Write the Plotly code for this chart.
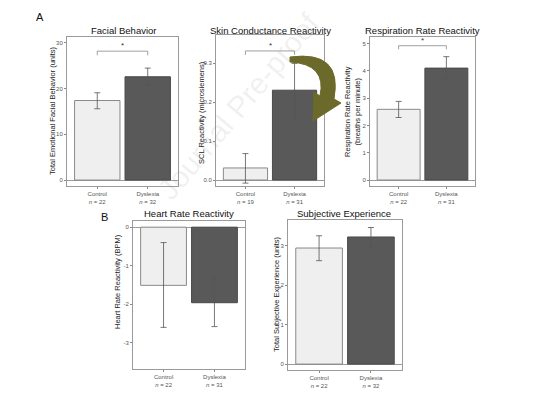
import plotly.graph_objects as go

# page is rendered with the browser's default 8px body margin
OFF = 8
W, H = 537 - OFF, 397 - OFF
FONT = "Liberation Sans, Arial, sans-serif"

groups = ["Control", "Dyslexia"]

# Panel data
facial_mean = [17.4, 22.6]
facial_hi = [19.1, 24.5]
facial_lo = [15.6, 20.8]
facial_n = [22, 32]

scl_mean = [0.031, 0.231]
scl_hi = [0.068, 0.300]
scl_lo = [-0.008, 0.158]
scl_n = [19, 31]

resp_mean = [2.59, 4.10]
resp_hi = [2.88, 4.52]
resp_lo = [2.29, 3.70]
resp_n = [22, 31]

hr_mean = [-1.51, -1.96]
hr_hi = [-0.40, -1.33]
hr_lo = [-2.60, -2.58]
hr_n = [22, 31]

subj_mean = [2.94, 3.22]
subj_hi = [3.25, 3.46]
subj_lo = [2.62, 2.96]
subj_n = [22, 32]

facial_ticks = [0, 10, 20, 30]
scl_ticks = [0.0, 0.1, 0.2, 0.3]
resp_ticks = [0, 1, 2, 3, 4, 5]
hr_ticks = [0, -1, -2, -3]
subj_ticks = [0, 1, 2, 3]

# significance brackets: (height, drop)
facial_sig = (28.2, 0.9)
scl_sig = (0.332, 0.010)
resp_sig = (4.92, 0.13)

def px(x):
    return (x - OFF) / W

def py(y):
    return 1 - (y - OFF) / H

panels = [
    dict(title="Facial Behavior", mean=facial_mean, hi=facial_hi, lo=facial_lo, n=facial_n,
         ticks=facial_ticks, fmt="{:g}", yr=[-1.3, 31.3], box=(67, 178, 37, 186),
         ytitle="Total Emotional Facial Behavior (units)", ytx=52, yty=111, sig=facial_sig,
         tt=(123, 30)),
    dict(title="Skin Conductance Reactivity", mean=scl_mean, hi=scl_hi, lo=scl_lo, n=scl_n,
         ticks=scl_ticks, fmt="{:.1f}", yr=[-0.0154, 0.373], box=(216, 324, 35, 186),
         ytitle="SCL Reactivity (microsiemens)", ytx=201, yty=113, sig=scl_sig,
         tt=(270, 30)),
    dict(title="Respiration Rate Reactivity", mean=resp_mean, hi=resp_hi, lo=resp_lo, n=resp_n,
         ticks=resp_ticks, fmt="{:g}", yr=[-0.22, 5.24], box=(370, 475, 37, 186),
         ytitle="Respiration Rate Reactivity<br>(breaths per minute)", ytx=353, yty=112, sig=resp_sig,
         tt=(422, 30)),
    dict(title="Heart Rate Reactivity", mean=hr_mean, hi=hr_hi, lo=hr_lo, n=hr_n,
         ticks=hr_ticks, fmt="{:g}", yr=[-3.68, 0.16], box=(133, 245, 221, 369),
         ytitle="Heart Rate Reactivity (BPM)", ytx=117, yty=282, sig=None,
         tt=(189, 213)),
    dict(title="Subjective Experience", mean=subj_mean, hi=subj_hi, lo=subj_lo, n=subj_n,
         ticks=subj_ticks, fmt="{:g}", yr=[-0.15, 3.65], box=(288, 402, 220, 370),
         ytitle="Total Subjective Experience (units)", ytx=276, yty=294, sig=None,
         tt=(344, 213)),
]

fig = go.Figure()
annotations = []
layout = {}

bar_fill = ["#efefef", "#595959"]
bar_line = ["#8a8a8a", "#4a4a4a"]

for i, p in enumerate(panels, start=1):
    xa = "x" if i == 1 else f"x{i}"
    ya = "y" if i == 1 else f"y{i}"
    xkey = "xaxis" if i == 1 else f"xaxis{i}"
    ykey = "yaxis" if i == 1 else f"yaxis{i}"
    l, r, t, b = p["box"]
    xs = [0, 1]
    fig.add_trace(go.Bar(
        x=xs, y=p["mean"], width=0.9, xaxis=xa, yaxis=ya,
        marker=dict(color=bar_fill, line=dict(color=bar_line, width=1)),
        error_y=dict(type="data", symmetric=False,
                     array=[h - m for h, m in zip(p["hi"], p["mean"])],
                     arrayminus=[m - lo for m, lo in zip(p["mean"], p["lo"])],
                     color="#555555", thickness=0.8, width=3),
        showlegend=False, hoverinfo="skip"))
    if p["sig"] is not None:
        h, d = p["sig"]
        fig.add_trace(go.Scatter(
            x=[0, 0, 1, 1], y=[h - d, h, h, h - d], mode="lines", xaxis=xa, yaxis=ya,
            line=dict(color="#888888", width=0.8), showlegend=False, hoverinfo="skip"))
        annotations.append(dict(x=0.5, y=h, xref=xa, yref=ya, text="*", showarrow=False,
                                yanchor="bottom", yshift=-1,
                                font=dict(family=FONT, size=8, color="#333333")))
    ticktext = [f"{g}<br><i>n</i> = {n}" for g, n in zip(groups, p["n"])]
    layout[xkey] = dict(domain=[px(l), px(r)], range=[-0.6, 1.6], anchor=ya,
                        tickvals=xs, ticktext=ticktext, ticks="outside", ticklen=2,
                        tickcolor="#888888", tickwidth=0.8,
                        tickfont=dict(family=FONT, size=6, color="#555555"),
                        showline=True, mirror=True, linecolor="#9a9a9a", linewidth=1,
                        showgrid=False, zeroline=False, fixedrange=True)
    layout[ykey] = dict(domain=[py(b), py(t)], range=p["yr"], anchor=xa,
                        tickvals=p["ticks"], ticktext=[p["fmt"].format(v) for v in p["ticks"]],
                        ticks="outside", ticklen=2, tickcolor="#888888", tickwidth=0.8,
                        tickfont=dict(family=FONT, size=6, color="#555555"),
                        showline=True, mirror=True, linecolor="#9a9a9a", linewidth=1,
                        showgrid=False, zeroline=True, zerolinecolor="#9a9a9a", zerolinewidth=1,
                        fixedrange=True)
    annotations.append(dict(x=px(p["tt"][0]), y=py(p["tt"][1]), xref="paper", yref="paper",
                            text=p["title"], showarrow=False, xanchor="center", yanchor="middle",
                            font=dict(family=FONT, size=9.5, color="#111111")))
    annotations.append(dict(x=px(p["ytx"]), y=py(p["yty"]), xref="paper", yref="paper",
                            text=p["ytitle"], showarrow=False, textangle=-90,
                            xanchor="center", yanchor="middle",
                            font=dict(family=FONT, size=7.5, color="#222222")))

# panel letters
annotations.append(dict(x=px(40), y=py(17), xref="paper", yref="paper", text="A", showarrow=False,
                        xanchor="center", yanchor="middle",
                        font=dict(family=FONT, size=11, color="#111111")))
annotations.append(dict(x=px(104), y=py(217), xref="paper", yref="paper", text="B", showarrow=False,
                        xanchor="center", yanchor="middle",
                        font=dict(family=FONT, size=11, color="#111111")))

# watermark
annotations.append(dict(x=px(238), y=py(106), xref="paper", yref="paper", text="Journal Pre-proof",
                        showarrow=False, textangle=-50, xanchor="center", yanchor="middle",
                        font=dict(family=FONT, size=30, color="rgba(140,140,140,0.13)")))

# olive curved arrow (tapering body + head)
def pt(x, y):
    return f"{px(x):.5f},{py(y):.5f}"

arrow_path = (f"M {pt(290, 57)} Q {pt(343, 50)} {pt(334, 99)} "
              f"L {pt(341, 103)} L {pt(313, 121)} L {pt(314, 92)} L {pt(320, 96)} "
              f"Q {pt(327, 64)} {pt(290, 62)} Z")
shapes = [
    dict(type="path", xref="paper", yref="paper", path=arrow_path,
         fillcolor="#6b6a2b", line=dict(color="#6b6a2b", width=1)),
]

fig.update_layout(
    width=W, height=H, margin=dict(l=0, r=0, t=0, b=0),
    paper_bgcolor="white", plot_bgcolor="white",
    annotations=annotations, shapes=shapes, bargap=0.1,
    **layout,
)

fig.write_html("out.html")
